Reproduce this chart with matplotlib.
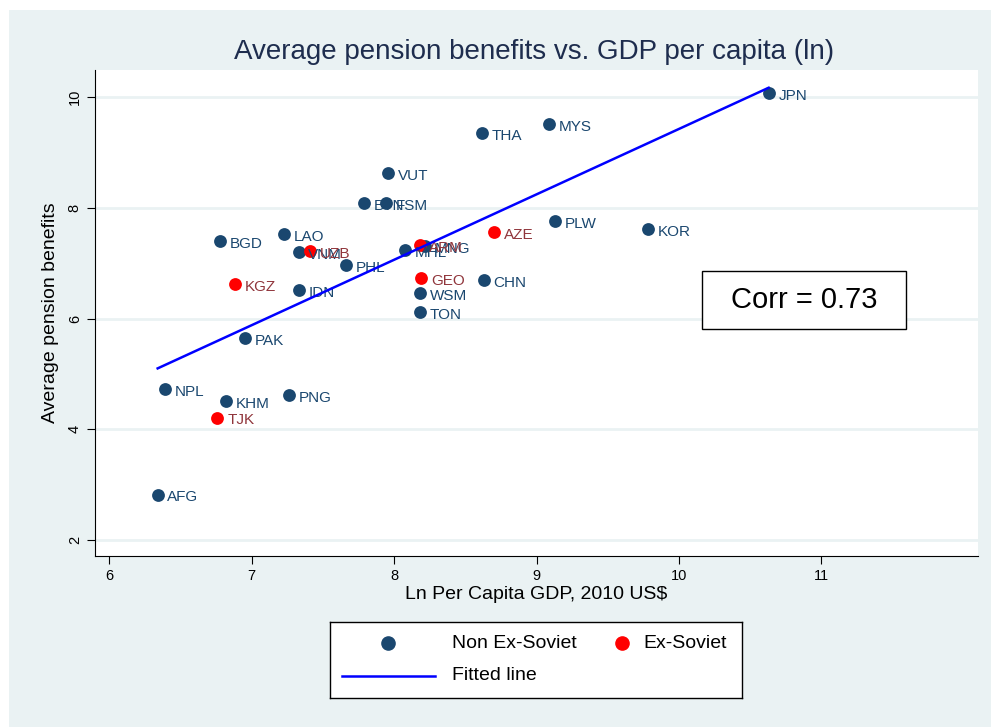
import numpy as np
import matplotlib
matplotlib.use("Agg")
import matplotlib.pyplot as plt
from matplotlib.patches import Rectangle

plt.rcParams['font.family'] = ['Liberation Sans', 'DejaVu Sans']

# non ex-Soviet countries
countries = ['JPN', 'MYS', 'THA', 'VUT', 'BTN', 'FSM', 'LAO', 'BGD', 'VNM', 'PHL',
             'MHL', 'MNG', 'PLW', 'KOR', 'CHN', 'WSM', 'TON', 'IDN', 'PAK', 'NPL',
             'PNG', 'KHM', 'AFG']
ln_gdp = [10.63, 9.09, 8.62, 7.96, 7.79, 7.94, 7.23, 6.78, 7.33, 7.66,
          8.08, 8.22, 9.13, 9.78, 8.63, 8.18, 8.18, 7.33, 6.95, 6.39,
          7.26, 6.82, 6.34]
pension = [10.07, 9.51, 9.35, 8.63, 8.09, 8.09, 7.53, 7.40, 7.20, 6.97,
           7.24, 7.31, 7.76, 7.62, 6.70, 6.46, 6.12, 6.52, 5.65, 4.73,
           4.62, 4.51, 2.82]

# ex-Soviet countries
sov_countries = ['UZB', 'ARM', 'AZE', 'GEO', 'KGZ', 'TJK']
sov_ln_gdp = [7.41, 8.18, 8.70, 8.19, 6.88, 6.76]
sov_pension = [7.22, 7.33, 7.56, 6.73, 6.62, 4.21]

navy = '#1a476f'
maroon = '#90353b'
bg = '#eaf2f3'

fig = plt.figure(figsize=(9.91, 7.27), dpi=100)
fig.patches.append(Rectangle((9 / 991, 0), 1, 1 - 10 / 727, transform=fig.transFigure,
                             facecolor=bg, edgecolor='none', zorder=-10))

ax = fig.add_axes([95 / 991, 1 - 556 / 727, (978 - 95) / 991, (556 - 70) / 727])
ax.set_xlim(5.9, 12.1)
ax.set_ylim(1.71, 10.49)
for y in [2, 4, 6, 8, 10]:
    ax.axhline(y, color=bg, lw=2, zorder=0)

ax.scatter(ln_gdp, pension, s=85, color=navy, zorder=3, linewidths=0)
ax.scatter(sov_ln_gdp, sov_pension, s=85, color='red', zorder=3, linewidths=0)
for c, x, y in zip(countries, ln_gdp, pension):
    ax.annotate(c, (x, y), xytext=(7, -2), textcoords='offset points',
                va='center', ha='left', fontsize=11, color=navy, zorder=4)
for c, x, y in zip(sov_countries, sov_ln_gdp, sov_pension):
    ax.annotate(c, (x, y), xytext=(7, -2), textcoords='offset points',
                va='center', ha='left', fontsize=11, color=maroon, zorder=4)

allx = np.array(ln_gdp + sov_ln_gdp)
ally = np.array(pension + sov_pension)
b, a = np.polyfit(allx, ally, 1)
xs = np.array([allx.min(), allx.max()])
ax.plot(xs, a + b * xs, color='blue', lw=1.8, zorder=5)

# correlation box
ax.add_patch(Rectangle((607 / 883, 227 / 486), 204 / 883, 58 / 486, transform=ax.transAxes,
                       facecolor='white', edgecolor='black', lw=1, zorder=6))
ax.text(709 / 883, 256 / 486, 'Corr = %.2f' % np.corrcoef(allx, ally)[0, 1],
        transform=ax.transAxes, fontsize=21, ha='center', va='center', zorder=7)

ax.set_xticks([6, 7, 8, 9, 10, 11])
ax.set_yticks([2, 4, 6, 8, 10])
ax.tick_params(labelsize=10.5, length=6, width=0.8)
for lab in ax.get_yticklabels():
    lab.set_rotation(90)
    lab.set_va('center')
ax.spines['top'].set_visible(False)
ax.spines['right'].set_visible(False)
ax.set_xlabel('Ln Per Capita GDP, 2010 US$', fontsize=14, labelpad=2)
ax.set_ylabel('Average pension benefits', fontsize=14, labelpad=6)
fig.text(534 / 991, 1 - 52 / 727, 'Average pension benefits vs. GDP per capita (ln)',
         fontsize=20, color='#1e2d4e', ha='center', va='center')

# legend, drawn in its own little box (pixel coords inside the box)
lg = fig.add_axes([330 / 991, 1 - 698 / 727, 412 / 991, 76 / 727])
lg.set_xlim(0, 412)
lg.set_ylim(76, 0)
lg.set_xticks([])
lg.set_yticks([])
for s in lg.spines.values():
    s.set_linewidth(1)
lg.plot([58], [21], 'o', color=navy, markersize=9.5)
lg.text(122, 21, 'Non Ex-Soviet', fontsize=14, va='center')
lg.plot([292], [21], 'o', color='red', markersize=9.5)
lg.text(313, 21, 'Ex-Soviet', fontsize=14, va='center')
lg.plot([12, 105], [54, 54], color='blue', lw=1.8)
lg.text(122, 54, 'Fitted line', fontsize=14, va='center')

fig.savefig('out.png', dpi=100)
